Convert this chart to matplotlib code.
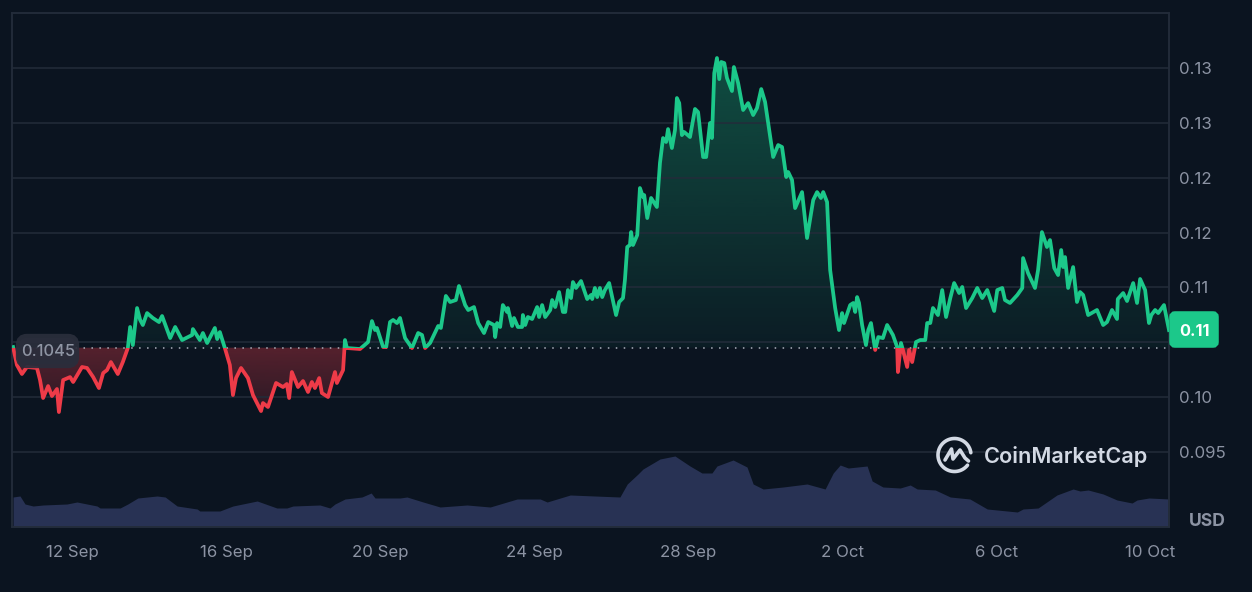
import numpy as np
import matplotlib
matplotlib.use("Agg")
import matplotlib.pyplot as plt
from matplotlib.patches import Rectangle, PathPatch, FancyBboxPatch
from matplotlib.path import Path
from matplotlib.colors import to_rgb

plt.rcParams['font.family'] = ['Inter', 'DejaVu Sans']

# time axis: days counted from 12 Sep
price_days = [-1.53,-1.43,-1.30,-1.17,-0.91,-0.83,-0.75,-0.62,-0.52,-0.39,-0.34,-0.23,-0.05,0.03,0.26,0.39,0.55,0.70,0.81,0.91,
 1.01,1.19,1.32,1.45,1.51,1.58,1.69,1.77,1.84,1.95,2.10,2.26,2.34,2.55,2.68,2.86,3.12,3.14,3.32,3.40,
 3.51,3.71,3.77,3.84,3.97,4.10,4.18,4.26,4.39,4.57,4.70,4.91,4.96,5.09,5.30,5.48,5.58,5.64,5.71,5.87,
 6.00,6.13,6.23,6.31,6.42,6.49,6.65,6.83,6.88,7.04,7.09,7.14,7.48,7.69,7.79,7.87,7.92,8.08,8.16,8.26,
 8.34,8.44,8.52,8.65,8.83,8.99,9.09,9.17,9.30,9.51,9.58,9.71,9.82,9.97,10.05,10.21,10.29,10.44,10.55,10.70,
 10.81,10.96,10.99,11.04,11.12,11.19,11.30,11.32,11.43,11.48,11.58,11.69,11.71,11.77,11.84,11.95,12.08,12.13,12.21,12.29,
 12.42,12.47,12.55,12.65,12.75,12.81,12.88,12.96,13.01,13.09,13.22,13.38,13.48,13.51,13.58,13.64,13.71,13.77,13.84,13.95,
 14.13,14.21,14.31,14.36,14.42,14.49,14.52,14.57,14.68,14.75,14.83,14.86,14.94,15.04,15.19,15.27,15.35,15.43,15.48,15.58,
 15.66,15.71,15.77,15.84,15.90,16.05,16.18,16.26,16.39,16.47,16.57,16.62,16.68,16.75,16.81,16.86,16.94,17.01,17.14,17.19,
 17.30,17.43,17.56,17.69,17.79,17.90,18.00,18.21,18.34,18.44,18.55,18.60,18.70,18.78,18.96,19.09,19.25,19.35,19.45,19.51,
 19.61,19.69,19.82,19.92,20.00,20.05,20.21,20.29,20.34,20.39,20.44,20.52,20.62,20.68,20.75,20.86,20.94,21.06,21.17,21.32,
 21.43,21.45,21.53,21.58,21.69,21.74,21.82,21.92,22.03,22.16,22.21,22.29,22.36,22.49,22.60,22.70,22.81,22.91,23.04,23.12,
 23.22,23.38,23.51,23.64,23.77,23.84,23.95,24.03,24.16,24.23,24.36,24.55,24.68,24.70,24.83,25.01,25.09,25.19,25.32,25.40,
 25.51,25.61,25.69,25.74,25.79,25.87,26.00,26.10,26.18,26.26,26.39,26.62,26.78,26.88,27.01,27.14,27.16,27.30,27.40,27.56,
 27.66,27.74,27.87,27.97,28.03,28.13,28.21,28.36,28.49]

price_values = [0.10456,0.10292,0.10210,0.10274,0.10265,0.10155,0.09991,0.10100,0.10009,0.10073,0.09863,0.10155,0.10182,0.10137,0.10274,0.10265,0.10182,0.10082,0.10219,0.10246,
 0.10319,0.10210,0.10319,0.10447,0.10639,0.10474,0.10812,0.10703,0.10657,0.10766,0.10721,0.10684,0.10739,0.10538,0.10639,0.10520,0.10566,0.10620,0.10520,0.10584,
 0.10493,0.10630,0.10529,0.10593,0.10447,0.10292,0.10018,0.10173,0.10265,0.10173,0.10018,0.09872,0.09945,0.09909,0.10128,0.10091,0.10119,0.09991,0.10228,0.10091,
 0.10146,0.10046,0.10137,0.10082,0.10173,0.10036,0.10000,0.10228,0.10128,0.10246,0.10520,0.10447,0.10438,0.10502,0.10693,0.10611,0.10630,0.10456,0.10456,0.10684,
 0.10703,0.10675,0.10721,0.10538,0.10447,0.10584,0.10566,0.10447,0.10493,0.10648,0.10630,0.10922,0.10867,0.10885,0.11013,0.10839,0.10794,0.10821,0.10675,0.10584,
 0.10684,0.10657,0.10547,0.10675,0.10639,0.10839,0.10776,0.10812,0.10648,0.10721,0.10639,0.10639,0.10748,0.10657,0.10730,0.10712,0.10821,0.10730,0.10839,0.10730,
 0.10794,0.10885,0.10821,0.10958,0.10776,0.10776,0.10976,0.10903,0.11049,0.10995,0.11058,0.10894,0.10931,0.10894,0.10995,0.10912,0.10995,0.10912,0.10976,0.11040,
 0.10748,0.10867,0.10903,0.11068,0.11369,0.11387,0.11505,0.11387,0.11478,0.11907,0.11825,0.11843,0.11633,0.11816,0.11734,0.12135,0.12363,0.12327,0.12445,0.12272,
 0.12436,0.12728,0.12682,0.12390,0.12418,0.12372,0.12628,0.12600,0.12190,0.12190,0.12500,0.12363,0.12956,0.13093,0.12901,0.13057,0.13047,0.12911,0.12792,0.13011,
 0.12865,0.12619,0.12682,0.12573,0.12637,0.12810,0.12692,0.12190,0.12299,0.12281,0.12007,0.12053,0.11980,0.11724,0.11870,0.11451,0.11797,0.11870,0.11816,0.11870,
 0.11779,0.11159,0.10812,0.10611,0.10766,0.10675,0.10839,0.10858,0.10776,0.10912,0.10858,0.10657,0.10474,0.10611,0.10675,0.10429,0.10547,0.10538,0.10657,0.10566,
 0.10456,0.10228,0.10493,0.10429,0.10274,0.10429,0.10319,0.10502,0.10520,0.10520,0.10675,0.10675,0.10812,0.10748,0.10976,0.10730,0.10903,0.11040,0.10949,0.11004,
 0.10812,0.10903,0.10995,0.10903,0.10976,0.10903,0.10785,0.10976,0.10995,0.10885,0.10858,0.10931,0.10995,0.11268,0.11131,0.10995,0.11159,0.11505,0.11369,0.11432,
 0.11177,0.11113,0.11341,0.11186,0.11277,0.10995,0.11186,0.10867,0.10958,0.10931,0.10748,0.10794,0.10657,0.10684,0.10794,0.10712,0.10894,0.10949,0.10876,0.11040,
 0.10858,0.11077,0.10976,0.10675,0.10748,0.10794,0.10766,0.10839,0.10611]

volume_days = [-1.53,-1.35,-1.22,-1.01,-0.75,-0.13,0.13,0.65,0.73,1.25,1.45,1.71,2.21,2.42,2.73,3.25,3.32,3.84,4.18,4.81,
 5.32,5.58,5.74,6.44,6.70,6.83,7.09,7.53,7.77,7.87,8.52,8.70,9.12,9.56,10.26,10.86,11.56,12.16,12.34,12.94,
 14.23,14.42,14.70,14.83,15.27,15.66,16.05,16.36,16.62,16.75,17.17,17.53,17.69,17.95,18.47,19.09,19.56,19.77,19.95,20.16,
 20.65,20.78,21.06,21.51,21.77,21.95,22.42,22.81,23.32,23.77,24.55,24.70,25.09,25.58,26.00,26.18,26.39,26.78,27.14,27.53,
 27.66,27.97,28.50]
volume_values = [30,31,23,21,22,23,25,21,19,19,23,29,31,30,21,18,16,16,21,26,
 19,19,21,22,19,23,28,30,34,29,29,30,25,20,22,20,28,28,25,32,
 30,43,53,58,68,71,61,54,54,61,67,60,43,38,40,43,38,54,62,59,
 61,46,40,39,42,38,37,30,28,18,15,18,19,32,38,36,37,33,27,24,
 27,29,28]

baseline_price = 0.1045
current_label = "0.11"
price_ticks = [0.095, 0.10, 0.105, 0.11, 0.115, 0.12, 0.125, 0.13]
price_tick_labels = ["0.095", "0.10", "", "0.11", "0.12", "0.12", "0.13", "0.13"]
date_ticks = [0, 4, 8, 12, 16, 20, 24, 28]
date_labels = ["12 Sep", "16 Sep", "20 Sep", "24 Sep", "28 Sep", "2 Oct", "6 Oct", "10 Oct"]

BG = "#0b1420"
GRID = "#232c3a"
GREEN = "#1cc88a"
RED = "#ee3b48"
VOL = "#283254"
TXT = "#8c93a3"

W, H = 1252, 592
fig = plt.figure(figsize=(W/100, H/100), dpi=100, facecolor=BG)
ax = fig.add_axes([12/W, 1-527/H, (1169-12)/W, (527-13)/H], facecolor=BG)
xlim = (-1.558, 28.49)
ylim = (0.08814, 0.13504)

# volume pane shares the same box, scaled so it stays low
vax = ax.twinx()
vax.set_ylim(0, 514)
vax.fill_between(volume_days, volume_values, 0, color=VOL, lw=0, zorder=1)
vax.set_yticks([])
ax.set_zorder(vax.get_zorder()+1)
ax.patch.set_visible(False)
vax.patch.set_facecolor(BG)
vax.patch.set_visible(True)

ax.set_xlim(*xlim)
ax.set_ylim(*ylim)
vax.set_xlim(*xlim)

ax.set_yticks(price_ticks)
ax.set_yticklabels(price_tick_labels)
ax.yaxis.tick_right()
ax.set_xticks(date_ticks)
ax.set_xticklabels(date_labels)
ax.tick_params(axis='y', length=0, pad=7, labelsize=12.1, labelcolor=TXT)
ax.tick_params(axis='x', length=0, pad=13, labelsize=12.1, labelcolor=TXT)
ax.grid(axis='y', color=GRID, lw=1.1, zorder=0)
for a in (ax, vax):
    for s in a.spines.values():
        s.set_color(GRID)
        s.set_linewidth(1.1)

# gradient fills between price and baseline
def gradient_fill(above, color, a_near, a_far, y_far):
    where = np.array(price_values) >= baseline_price if above else np.array(price_values) <= baseline_price
    coll = ax.fill_between(price_days, price_values, baseline_price, where=where, interpolate=True, alpha=0, lw=0)
    path = Path.make_compound_path(*coll.get_paths())
    y0, y1 = (baseline_price, y_far) if above else (y_far, baseline_price)
    t = np.linspace(0, 1, 256)
    alpha = a_near + (a_far - a_near) * (t if above else 1 - t)
    rgba = np.zeros((256, 1, 4))
    rgba[..., :3] = to_rgb(color)
    rgba[:, 0, 3] = alpha
    im = ax.imshow(rgba, extent=(xlim[0], xlim[1], y0, y1), origin='lower', aspect='auto', zorder=1.5)
    im.set_clip_path(PathPatch(path, transform=ax.transData))

gradient_fill(True, GREEN, 0.05, 0.32, 0.1310)
gradient_fill(False, RED, 0.33, 0.14, 0.0985)
ax.set_xlim(*xlim)
ax.set_ylim(*ylim)

ax.axhline(baseline_price, color="#aab0bb", lw=1.1, ls=(0, (1, 4.2)), zorder=2)

# price line split at the baseline
up, = ax.plot(price_days, price_values, color=GREEN, lw=2.7, solid_joinstyle='round', zorder=3)
up.set_clip_path(Rectangle((xlim[0], baseline_price), xlim[1]-xlim[0], ylim[1]-baseline_price, transform=ax.transData))
dn, = ax.plot(price_days, price_values, color=RED, lw=2.7, solid_joinstyle='round', zorder=3)
dn.set_clip_path(Rectangle((xlim[0], ylim[0]), xlim[1]-xlim[0], baseline_price-ylim[0], transform=ax.transData))

# overlay in pixel space for badges, unit label and logo
ov = fig.add_axes([0, 0, 1, 1], facecolor='none', zorder=10)
ov.set_xlim(0, W)
ov.set_ylim(H, 0)
ov.axis('off')
ov.add_patch(FancyBboxPatch((20, 338), 55, 26, boxstyle="round,pad=0,rounding_size=7", fc="#2a2e3c", ec="#2a2e3c", lw=6, alpha=0.93, zorder=5))
ov.text(48.5, 351, "0.1045", color="#8f95a4", fontsize=11.9, fontweight='medium', ha='center', va='center', zorder=6)
ov.add_patch(FancyBboxPatch((1172, 314), 44, 31, boxstyle="round,pad=0,rounding_size=3", fc=GREEN, ec=GREEN, lw=4, zorder=5))
ov.text(1194, 331, current_label, color="white", fontsize=11.8, fontweight='bold', ha='center', va='center', zorder=6)
ov.text(1207, 521, "USD", color=TXT, fontsize=12.6, fontweight='bold', ha='center', va='center')

LOGO = "#d3d9e4"
ang = np.radians(np.linspace(-38, -352, 80))
ov.plot(954.5 + 16.5*np.cos(ang), 455 - 16.5*np.sin(ang), color=LOGO, lw=2.6, solid_capstyle='round')
ov.plot([945, 951.5, 953, 960, 965, 968.5], [460, 449, 459, 450, 458, 461], color=LOGO, lw=2.6,
        solid_joinstyle='round', solid_capstyle='round')
ov.text(984, 456.5, "CoinMarketCap", color=LOGO, fontsize=15.6, fontweight='semibold', ha='left', va='center')

fig.savefig("out.png", dpi=100, facecolor=BG)
